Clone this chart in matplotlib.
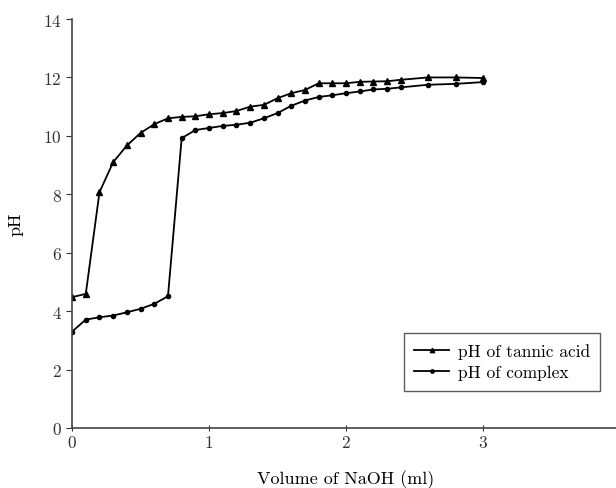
import numpy as np
import matplotlib
matplotlib.use("Agg")
import matplotlib.pyplot as plt

plt.rcParams['font.family'] = 'serif'
plt.rcParams['font.serif'] = ['cmr10', 'DejaVu Serif']
plt.rcParams['mathtext.fontset'] = 'cm'
plt.rcParams['axes.formatter.use_mathtext'] = True

# volume of NaOH (ml) and pH readings
vol_tannic = [0.0, 0.1, 0.2, 0.3, 0.4, 0.5, 0.6, 0.7, 0.8, 0.9, 1.0, 1.1, 1.2,
              1.3, 1.4, 1.5, 1.6, 1.7, 1.8, 1.9, 2.0, 2.1, 2.2, 2.3, 2.4,
              2.6, 2.8, 3.0]
ph_tannic = [4.48, 4.59, 8.07, 9.1, 9.67, 10.1, 10.4, 10.6, 10.65, 10.67,
             10.74, 10.78, 10.85, 11.0, 11.06, 11.29, 11.46, 11.57, 11.8,
             11.8, 11.8, 11.85, 11.86, 11.87, 11.92, 12.0, 12.0, 11.98]

vol_complex = [0.0, 0.1, 0.2, 0.3, 0.4, 0.5, 0.6, 0.7, 0.8, 0.9, 1.0, 1.1,
               1.2, 1.3, 1.4, 1.5, 1.6, 1.7, 1.8, 1.9, 2.0, 2.1, 2.2, 2.3,
               2.4, 2.6, 2.8, 3.0]
ph_complex = [3.3, 3.71, 3.79, 3.85, 3.96, 4.08, 4.25, 4.51, 9.92, 10.2,
              10.27, 10.34, 10.38, 10.45, 10.6, 10.78, 11.03, 11.21, 11.33,
              11.39, 11.46, 11.52, 11.59, 11.61, 11.66, 11.75, 11.78, 11.84]

fig = plt.figure(figsize=(6.16, 4.89), dpi=100)
ax = fig.add_axes([0.117, 0.1227, 0.8896, 0.8364])

ax.plot(vol_tannic, ph_tannic, color='black', lw=1.3, marker='^', ms=4,
        label='pH of tannic acid')
ax.plot(vol_complex, ph_complex, color='black', lw=1.3, marker='o', ms=3,
        label='pH of complex')

ax.set_xlim(0, 4)
ax.set_ylim(0, 14)
ax.set_xticks([0, 1, 2, 3, 4])
ax.set_yticks(np.arange(0, 15, 2))
ax.spines['top'].set_visible(False)
ax.spines['right'].set_visible(False)
for s in ('left', 'bottom'):
    ax.spines[s].set_color('#444444')
    ax.spines[s].set_linewidth(1.2)
ax.tick_params(axis='both', labelsize=12.5, length=4, width=0.8, colors='#333333')
ax.tick_params(axis='x', direction='inout', pad=2)

ax.set_xlabel('Volume of NaOH (ml)', fontsize=13, labelpad=14)
ax.set_ylabel('pH', fontsize=13, labelpad=14)

leg = ax.legend(loc='lower right', bbox_to_anchor=(0.98, 0.07), fontsize=12.5,
                frameon=True, fancybox=False, edgecolor='#333333',
                handlelength=2.0, markerscale=0.8, borderpad=0.6,
                labelspacing=0.35, handletextpad=0.5)
leg.get_frame().set_linewidth(1.0)

fig.savefig('out.png', dpi=100)
